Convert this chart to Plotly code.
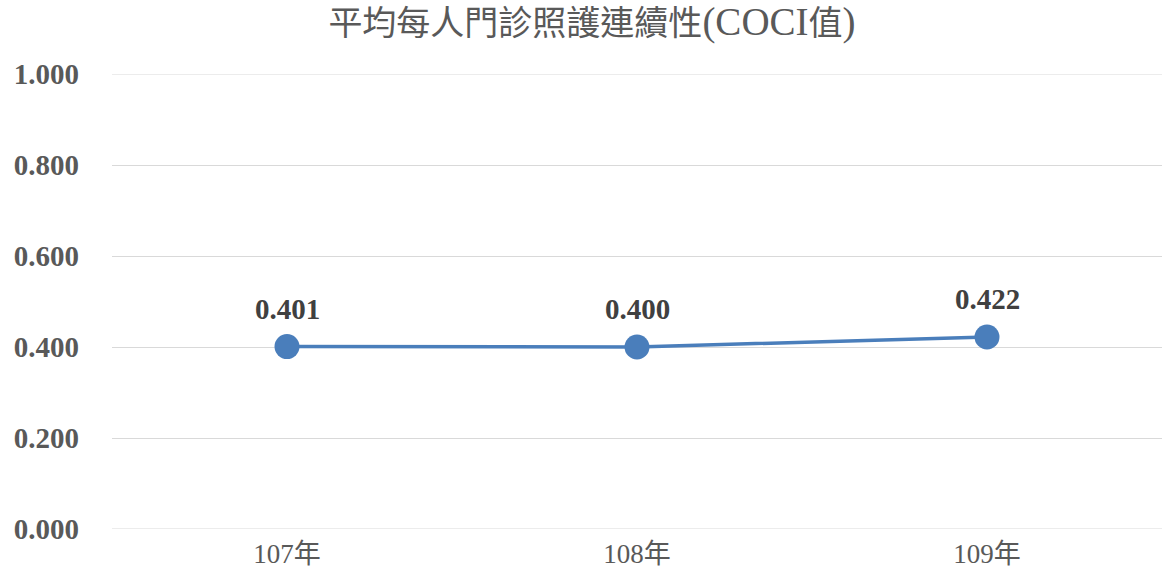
import plotly.graph_objects as go

# COCI values per year
years = ["107年", "108年", "109年"]
coci = [0.401, 0.400, 0.422]
value_labels = ["0.401", "0.400", "0.422"]
y_ticks = [0.0, 0.2, 0.4, 0.6, 0.8, 1.0]
y_tick_text = ["0.000", "0.200", "0.400", "0.600", "0.800", "1.000"]

serif = "Liberation Serif, Times New Roman, Noto Sans CJK TC, serif"
cjk_serif = "Liberation Serif, Noto Sans CJK TC, serif"
gray = "#595959"
blue = "#4A7EBB"
grid = "#d9d9d9"

fig = go.Figure()
fig.add_trace(go.Scatter(
    x=years, y=coci, mode="lines+markers",
    line=dict(color=blue, width=3.5),
    marker=dict(size=25, color=blue),
    hoverinfo="skip",
))

for xv, yv, txt in zip(years, coci, value_labels):
    fig.add_annotation(
        x=xv, y=yv, text=f"<b>{txt}</b>", showarrow=False,
        yshift=38, font=dict(family=serif, size=29, color="#404040"),
    )

# gridlines at the bottom and top of the value range
for yv in (y_ticks[0], y_ticks[-1]):
    fig.add_shape(type="line", xref="paper", x0=0, x1=1, yref="y", y0=yv, y1=yv,
                  line=dict(color=grid, width=1), layer="below")

big = "<span style='font-size:39px'>{}</span>"
title_text = "平均每人門診照護連續性" + big.format("(COCI") + "值" + big.format(")")

fig.update_layout(
    width=1163, height=581,
    margin=dict(l=112, r=1, t=74, b=52),
    paper_bgcolor="white", plot_bgcolor="white",
    showlegend=False,
    title=dict(
        text=title_text,
        x=0.509, xanchor="center", y=0.96, yanchor="middle",
        font=dict(family=cjk_serif, size=34, color=gray),
    ),
    xaxis=dict(
        type="category", range=[-0.5, 2.5],
        showgrid=False, showline=False, zeroline=False,
        ticks="", tickfont=dict(family=cjk_serif, size=27, color=gray),
        ticklabelstandoff=6,
    ),
    yaxis=dict(
        range=[0, 1.0], tickvals=y_ticks, ticktext=y_tick_text,
        showgrid=True, gridcolor=grid, gridwidth=1,
        zeroline=False, showline=False, ticks="",
        tickfont=dict(family=serif, size=29, color=gray, weight="bold"),
        ticklabelstandoff=32,
    ),
)

fig.write_html("out.html")
